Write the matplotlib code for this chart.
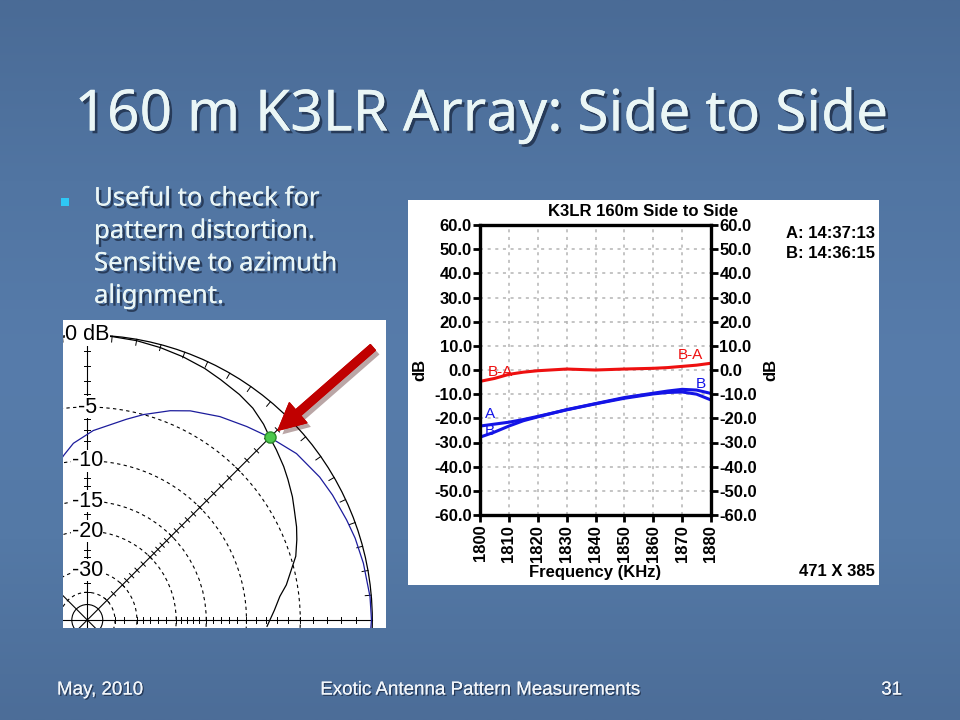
import numpy as np
import matplotlib.pyplot as plt
import matplotlib.patheffects as pe
from matplotlib.patches import Rectangle, Circle
from matplotlib.colors import LinearSegmentedColormap

# sweep data (KHz, dB)
freq = [1800, 1805, 1810, 1815, 1820, 1830, 1840, 1850, 1860, 1865, 1870, 1875, 1880]
sig_a = [-23.2, -22.4, -21.6, -20.5, -19.2, -16.5, -14.0, -11.7, -9.9, -9.3, -9.1, -10.0, -12.4]
sig_b = [-27.8, -25.7, -23.2, -21.0, -19.4, -16.4, -13.9, -11.4, -9.6, -8.7, -8.0, -8.3, -9.7]
b_minus_a = [-4.7, -3.5, -1.8, -0.9, -0.3, 0.4, 0.0, 0.4, 0.7, 1.0, 1.5, 2.0, 2.8]

x_ticks = list(range(1800, 1881, 10))
y_ticks = list(range(-60, 61, 10))

# polar inset: azimuth (deg) / dB
pat_b_az = [-12, -8, -4.5, 1.8, 11, 15.3, 21.6, 26.2, 33.1, 39.5, 44.9, 51.5, 58.4, 63, 68.9, 73, 78.4, 85.3, 90, 93]
pat_b_db = [-10.4, -9.2, -8.15, -7.0, -5.7, -5.0, -4.05, -3.45, -2.75, -2.2, -1.7, -1.1, -0.75, -0.6, -0.43, -0.3, -0.19, -0.08, -0.05, -0.1]
pat_a_az = [-10, 0, 5, 10, 15, 20, 25, 29, 34, 38, 42, 45, 48, 52, 55, 59, 62, 66, 69, 73, 76, 80, 83, 87, 92]
pat_a_db = [0, 0, -0.03, -0.08, -0.18, -0.3, -0.45, -0.62, -0.8, -1.0, -1.35, -1.7, -1.95, -2.3, -2.6, -3.0, -3.35, -3.75, -4.1, -4.6, -5.2, -5.9, -6.6, -7.2, -7.9]
ring_db = [-5, -10, -15, -20, -30, -40]
ring_labels = ['0 dB', '-5', '-10', '-15', '-20', '-30']
ring_label_db = [0, -5, -10, -15, -20, -30]
tick_db = list(range(-1, -21, -1)) + list(range(-22, -31, -2)) + [-35, -40]
mark_az, mark_db = 45, -1.7

W, H = 960, 720


def box(x0, y0, x1, y1):
    return [x0 / W, 1 - y1 / H, (x1 - x0) / W, (y1 - y0) / H]


fig = plt.figure(figsize=(9.6, 7.2), dpi=100)

# slide background
bg = fig.add_axes([0, 0, 1, 1])
bg.set_zorder(-10)
cm = LinearSegmentedColormap.from_list('slide', ['#4A6B96', '#5175A2', '#577CAB', '#5479A6', '#4C6D98'])
bg.imshow(np.linspace(0, 1, 256).reshape(-1, 1), aspect='auto', cmap=cm, extent=[0, 1, 0, 1])
bg.set_axis_off()

light = '#EAF6F6'
shadow = [pe.withSimplePatchShadow(offset=(2, -2), shadow_rgbFace='#1E2E48', alpha=0.8), pe.Normal()]
slide_font = ['Noto Sans', 'DejaVu Sans']

fig.text(481 / W, 1 - 116 / H, '160 m K3LR Array: Side to Side', ha='center', va='center',
         fontsize=41, color=light, family=slide_font, path_effects=shadow)

# bullet
fig.patches.append(Rectangle((61 / W, 1 - 206 / H), 8 / W, 8 / H, transform=fig.transFigure,
                             facecolor='#2EC8F5', edgecolor='none'))
bullet = ['Useful to check for', 'pattern distortion.', 'Sensitive to azimuth', 'alignment.']
for i, line in enumerate(bullet):
    fig.text(94 / W, 1 - (199 + i * 32.5) / H, line, ha='left', va='center', fontsize=18.5,
             color=light, family=slide_font, path_effects=shadow)

foot = dict(fontsize=13.5, color='#F2F6FA', family=['Liberation Sans'],
            va='center', path_effects=[pe.withSimplePatchShadow(offset=(1, -1), shadow_rgbFace='#1E2E48', alpha=0.8), pe.Normal()])
fig.text(57 / W, 1 - 690 / H, 'May, 2010', ha='left', **foot)
fig.text(480 / W, 1 - 690 / H, 'Exotic Antenna Pattern Measurements', ha='center', **foot)
fig.text(902 / W, 1 - 690 / H, '31', ha='right', **foot)

# ---- sweep chart ----
fig.patches.append(Rectangle((408 / W, 1 - 585 / H), 471 / W, 385 / H, transform=fig.transFigure,
                             facecolor='white', edgecolor='none', zorder=-5))
ax = fig.add_axes(box(480, 225, 711, 515))
ax.plot(freq, b_minus_a, color='#EE1010', lw=2.2)
ax.plot(freq, sig_a, color='#1414E6', lw=2.2)
ax.plot(freq, sig_b, color='#1414E6', lw=2.2)
ax.set_xlim(1800, 1880)
ax.set_ylim(-60, 60)
ax.set_xticks(x_ticks)
ax.set_yticks(y_ticks)
ax.set_yticklabels(['%.1f' % v for v in y_ticks])
ax.set_xticklabels([str(v) for v in x_ticks], rotation=90)
ax.grid(True, color='#B4B4B4', ls=(0, (2, 3)), lw=1.1)
for s in ax.spines.values():
    s.set_linewidth(2.4)
ax.tick_params(axis='y', which='both', left=True, right=True, labelleft=True, labelright=True,
               direction='out', length=5, width=2, labelsize=12, pad=1)
ax.tick_params(axis='x', direction='out', length=5, width=2, labelsize=12, pad=2)
for t in ax.yaxis.get_major_ticks() + ax.xaxis.get_major_ticks():
    for lab in (t.label1, t.label2):
        lab.set_fontweight('bold')
        lab.set_family('Liberation Sans')
lbl = dict(family='Liberation Sans', fontweight='bold', fontsize=12)
ax.text(-0.26, 0.5, 'dB', rotation=90, ha='center', va='center', transform=ax.transAxes, **lbl)
ax.text(1.26, 0.5, 'dB', rotation=90, ha='center', va='center', transform=ax.transAxes, **lbl)
ax.text(0.5, -0.2, 'Frequency (KHz)', ha='center', va='center', transform=ax.transAxes, **lbl)
ax.text((643 - 480) / 231, (515 - 212) / 290, 'K3LR 160m Side to Side', ha='center', va='center',
        transform=ax.transAxes, **lbl)
cl = dict(ha='center', va='center', fontsize=11, family='Liberation Sans')
ax.text(1807, -0.8, 'B-A', color='#EE1010', **cl)
ax.text(1873, 6.2, 'B-A', color='#EE1010', **cl)
ax.text(1803.5, -18.2, 'A', color='#1414E6', **cl)
ax.text(1803.5, -25.3, 'B', color='#1414E6', **cl)
ax.text(1876.5, -5.8, 'B', color='#1414E6', **cl)
ax.text((875 - 480) / 231, (515 - 234) / 290, 'A: 14:37:13', ha='right', va='center',
        transform=ax.transAxes, **lbl)
ax.text((875 - 480) / 231, (515 - 253) / 290, 'B: 14:36:15', ha='right', va='center',
        transform=ax.transAxes, **lbl)
ax.text((875 - 480) / 231, -(572 - 515) / 290, '471 X 385', ha='right', va='center',
        transform=ax.transAxes, **lbl)

# ---- polar pattern inset (ARRL log scale) ----
R0 = 285.0


def rad(db):
    return R0 * 0.89 ** (-np.asarray(db, dtype=float) / 2)


def xy(az, db):
    t = np.radians(np.asarray(az, dtype=float))
    r = rad(db)
    return r * np.sin(t), r * np.cos(t)


px = fig.add_axes(box(63, 320, 386, 628))
px.set_xlim(63 - 87.3, 386 - 87.3)
px.set_ylim(620 - 628, 620 - 320)
px.set_facecolor('white')
px.set_xticks([])
px.set_yticks([])
for s in px.spines.values():
    s.set_visible(False)

for d in ring_db:
    px.add_patch(Circle((0, 0), rad(d), fill=False, ec='black', lw=0.8, ls=(0, (3, 3))))
px.add_patch(Circle((0, 0), rad(0), fill=False, ec='black', lw=0.9))
px.add_patch(Circle((0, 0), rad(-50), fill=False, ec='black', lw=0.8))

# axis lines with dB ticks
for az in [0, 90, 45, -45]:
    t = np.radians(az)
    ext = R0 if az in (0, 90, 45) else 60
    px.plot([-60 * np.sin(t), ext * np.sin(t)], [-60 * np.cos(t), ext * np.cos(t)], color='black', lw=0.8)
for az in [0, 90, 45]:
    t = np.radians(az)
    for d in tick_db:
        r = rad(d)
        cx, cy = r * np.sin(t), r * np.cos(t)
        nx, ny = np.cos(t), -np.sin(t)
        px.plot([cx - 3 * nx, cx + 3 * nx], [cy - 3 * ny, cy + 3 * ny], color='black', lw=0.7)
# rim ticks every 5 deg
for az in range(-10, 95, 5):
    t = np.radians(az)
    px.plot([R0 * np.sin(t), (R0 - 6) * np.sin(t)], [R0 * np.cos(t), (R0 - 6) * np.cos(t)],
            color='black', lw=0.7)

bx, by = xy(pat_b_az, pat_b_db)
px.plot(bx, by, color='#1C1C9C', lw=0.9)
ax_, ay_ = xy(pat_a_az, pat_a_db)
px.plot(ax_, ay_, color='black', lw=0.9)

for lab, d in zip(ring_labels, ring_label_db):
    px.text(0, rad(d), lab, ha='center', va='center', fontsize=15.5, family='Liberation Sans',
            color='black', bbox=dict(fc='white', ec='none', pad=0.3))

mx, my = xy(mark_az, mark_db)
px.plot(mx, my, 'o', ms=8, mfc='#4CC84C', mec='#2A8A2A', mew=1)

px.annotate('', xy=(mx, my), xytext=(mx + 103, my + 90), annotation_clip=False,
            arrowprops=dict(arrowstyle='simple,head_length=0.95,head_width=0.95,tail_width=0.27',
                            mutation_scale=20, color='#C00000', shrinkA=0, shrinkB=8, clip_on=False,
                            path_effects=[pe.withSimplePatchShadow(offset=(3, -3), alpha=0.35), pe.Normal()]))

fig.savefig('out.png', dpi=100)
